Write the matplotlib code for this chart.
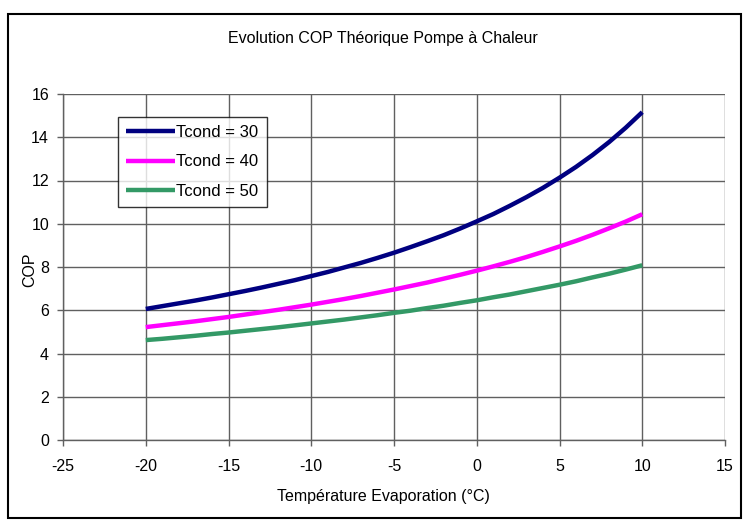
import matplotlib
matplotlib.use("Agg")
import matplotlib.pyplot as plt
from matplotlib.patches import Rectangle

t_evap = list(range(-20, 11))
cop_30 = [6.06, 6.19, 6.32, 6.45, 6.59, 6.74, 6.89, 7.05, 7.22, 7.39, 7.58, 7.77, 7.98, 8.19,
          8.42, 8.66, 8.92, 9.19, 9.47, 9.78, 10.11, 10.45, 10.83, 11.23, 11.66, 12.13, 12.63,
          13.18, 13.78, 14.44, 15.16]
cop_40 = [5.22, 5.31, 5.40, 5.49, 5.59, 5.69, 5.80, 5.91, 6.02, 6.14, 6.26, 6.39, 6.52, 6.66,
          6.81, 6.96, 7.12, 7.28, 7.46, 7.64, 7.83, 8.03, 8.24, 8.46, 8.70, 8.95, 9.21, 9.49,
          9.79, 10.10, 10.44]
cop_50 = [4.62, 4.68, 4.75, 4.82, 4.90, 4.97, 5.05, 5.13, 5.21, 5.30, 5.39, 5.48, 5.57, 5.67,
          5.77, 5.88, 5.98, 6.10, 6.21, 6.34, 6.46, 6.60, 6.73, 6.88, 7.03, 7.18, 7.34, 7.52,
          7.69, 7.88, 8.08]
labels = ["Tcond = 30", "Tcond = 40", "Tcond = 50"]
colors = ["#000080", "#FF00FF", "#339966"]
x_ticks = list(range(-25, 16, 5))
y_ticks = list(range(0, 17, 2))

plt.rcParams['font.family'] = ['Liberation Sans', 'DejaVu Sans']
plt.rcParams['axes.unicode_minus'] = False
W, H = 747, 523
fig = plt.figure(figsize=(W / 100, H / 100), dpi=100)
ax = fig.add_axes([63 / W, 1 - 440 / H, (725 - 63) / W, (440 - 94) / H])

for y, lab, c in zip([cop_30, cop_40, cop_50], labels, colors):
    ax.plot(t_evap, y, color=c, lw=3.2, label=lab, solid_capstyle='butt')

ax.set_xlim(-25, 15)
ax.set_ylim(0, 16)
ax.set_xticks(x_ticks)
ax.set_yticks(y_ticks)
ax.grid(True, color='#606060', lw=1)
ax.set_axisbelow(True)
for s in ['top', 'right']:
    ax.spines[s].set_visible(False)
for s in ['left', 'bottom']:
    ax.spines[s].set_color('#606060')
    ax.spines[s].set_linewidth(1)
ax.tick_params(direction='out', length=4, width=1, color='#606060', labelsize=11.5)
ax.tick_params(axis='x', pad=10)
ax.tick_params(axis='y', pad=6)

ax.set_xlabel("Température Evaporation (°C)", fontsize=11.5)
ax.xaxis.set_label_coords((383 - 63) / (725 - 63), -(496 - 440) / (440 - 94))
ax.xaxis.label.set_va('center')
ax.set_ylabel("COP", fontsize=11.5)
ax.yaxis.set_label_coords(-(63 - 30) / (725 - 63), (440 - 270) / (440 - 94))
ax.yaxis.label.set_va('center')
fig.text(383 / W, 1 - 38 / H, "Evolution COP Théorique Pompe à Chaleur", ha='center', va='center', fontsize=11.5)

leg = ax.legend(loc='upper left', bbox_to_anchor=((118 - 63) / (725 - 63), 1 - (117 - 94) / (440 - 94)),
                fontsize=12, frameon=True, fancybox=False, handlelength=2.9, handletextpad=0.1,
                borderpad=0.5, labelspacing=0.85, borderaxespad=0)
leg.get_frame().set_edgecolor('black')
leg.get_frame().set_linewidth(1)

fig.patches.append(Rectangle((8 / W, 1 - 518 / H), (741 - 8) / W, (518 - 14) / H, transform=fig.transFigure,
                             fill=False, edgecolor='black', lw=1.5))
fig.savefig("out.png", dpi=100)
